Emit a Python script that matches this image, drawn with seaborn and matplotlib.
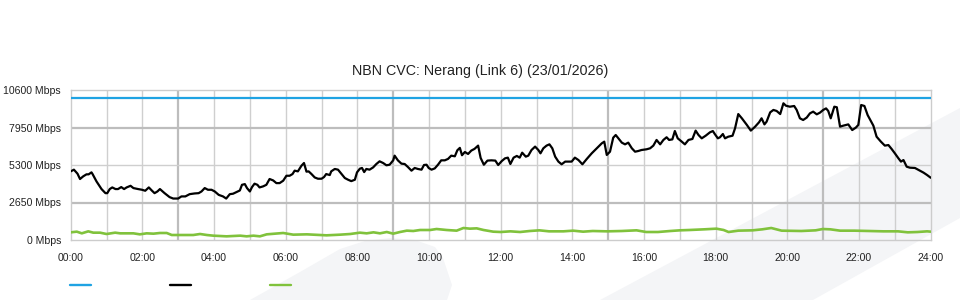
import matplotlib
matplotlib.use("Agg")
import matplotlib.pyplot as plt
import seaborn as sns
import pandas as pd
from matplotlib.patches import Polygon
from matplotlib.lines import Line2D

# ---------------- data ----------------
title = "NBN CVC: Nerang (Link 6) (23/01/2026)"
x_tick_hours = list(range(0, 25, 2))
x_tick_labels = [f"{h:02d}:00" for h in x_tick_hours]
y_ticks = [0, 2650, 5300, 7950, 10600]
y_tick_labels = [f"{v} Mbps" for v in y_ticks]

capacity_hours = [0, 24]
capacity_mbps = [10000, 10000]

traffic_hours = [
    0.00, 0.09, 0.19, 0.26, 0.35, 0.44, 0.50, 0.58, 0.61, 0.72, 0.86, 0.97, 1.02, 1.09, 1.16,
    1.25, 1.32, 1.41, 1.49, 1.56, 1.67, 1.75, 1.88, 1.99, 2.08, 2.18, 2.27, 2.34, 2.42, 2.49,
    2.62, 2.76, 2.86, 3.00, 3.09, 3.20, 3.32, 3.46, 3.57, 3.65, 3.74, 3.83, 3.93, 4.02, 4.13,
    4.25, 4.34, 4.44, 4.53, 4.62, 4.72, 4.78, 4.86, 4.92, 5.00, 5.06, 5.13, 5.21, 5.27, 5.37,
    5.46, 5.55, 5.65, 5.74, 5.83, 5.93, 6.02, 6.11, 6.19, 6.25, 6.34, 6.44, 6.51, 6.58, 6.64,
    6.72, 6.81, 6.90, 7.00, 7.07, 7.13, 7.23, 7.27, 7.37, 7.46, 7.55, 7.65, 7.74, 7.83, 7.93,
    7.99, 8.07, 8.13, 8.19, 8.25, 8.34, 8.44, 8.53, 8.62, 8.72, 8.81, 8.90, 9.00, 9.04, 9.13,
    9.23, 9.32, 9.41, 9.51, 9.60, 9.69, 9.79, 9.86, 9.93, 9.99, 10.07, 10.16, 10.25, 10.34, 10.44,
    10.53, 10.62, 10.72, 10.79, 10.86, 10.92, 11.00, 11.09, 11.18, 11.27, 11.37, 11.44, 11.53, 11.63, 11.74,
    11.85, 11.93, 12.03, 12.12, 12.20, 12.27, 12.36, 12.45, 12.53, 12.60, 12.70, 12.77, 12.86, 12.96, 13.05,
    13.11, 13.19, 13.28, 13.36, 13.44, 13.52, 13.61, 13.70, 13.80, 13.88, 13.98, 14.07, 14.17, 14.28, 14.40,
    14.54, 14.68, 14.82, 14.89, 14.96, 15.05, 15.14, 15.21, 15.30, 15.38, 15.47, 15.56, 15.66, 15.75, 15.84,
    15.93, 16.07, 16.17, 16.26, 16.35, 16.45, 16.54, 16.63, 16.70, 16.79, 16.86, 16.94, 17.03, 17.14, 17.24,
    17.35, 17.44, 17.52, 17.61, 17.72, 17.84, 17.92, 17.98, 18.06, 18.12, 18.20, 18.26, 18.35, 18.47, 18.54,
    18.63, 18.73, 18.87, 18.98, 19.10, 19.21, 19.28, 19.36, 19.42, 19.52, 19.61, 19.70, 19.80, 19.89, 19.96,
    20.07, 20.19, 20.26, 20.35, 20.44, 20.54, 20.63, 20.72, 20.82, 20.91, 21.00, 21.08, 21.14, 21.21, 21.31,
    21.38, 21.47, 21.56, 21.70, 21.81, 21.91, 21.98, 22.06, 22.15, 22.24, 22.33, 22.40, 22.49, 22.61, 22.72,
    22.82, 22.91, 23.00, 23.10, 23.17, 23.24, 23.33, 23.42, 23.56, 23.66, 23.80, 23.90, 24.00,
]
traffic_mbps = [
    4850, 4970, 4685, 4310, 4500, 4640, 4640, 4780, 4660, 4140, 3600, 3310, 3310, 3600, 3715,
    3600, 3600, 3740, 3600, 3715, 3830, 3670, 3600, 3550, 3480, 3715, 3480, 3310, 3430, 3600,
    3310, 3030, 2930, 2930, 3080, 3080, 3240, 3290, 3310, 3430, 3670, 3550, 3550, 3430, 3190,
    3080, 2930, 3240, 3270, 3380, 3500, 3900, 3950, 3670, 3430, 3740, 3980, 3900, 3715, 3790,
    3900, 4310, 4210, 4020, 4020, 4190, 4540, 4540, 4660, 4900, 4850, 5250, 5440, 4830, 4850,
    4660, 4420, 4330, 4330, 4450, 4660, 4590, 4850, 5020, 4970, 4685, 4380, 4260, 4160, 4260,
    4780, 5040, 5090, 4800, 5020, 4970, 5130, 5370, 5560, 5440, 5280, 5320, 5630, 5960, 5630,
    5395, 5370, 5160, 4900, 5090, 5020, 4970, 5300, 5320, 5090, 4970, 5060, 5320, 5630, 5630,
    5730, 5960, 5915, 6340, 6510, 5990, 6220, 6080, 6320, 6440, 6670, 5800, 5320, 5610, 5630,
    5610, 5300, 5580, 5770, 5820, 5370, 5820, 5940, 5820, 6170, 5890, 5960, 6360, 6600, 6360,
    6125, 6480, 6670, 6760, 6480, 5890, 5540, 5350, 5540, 5540, 5540, 5820, 5650, 5350, 5720,
    6125, 6480, 6830, 6950, 6010, 6240, 7230, 7420, 7140, 6880, 6760, 6880, 6480, 6240, 6290,
    6360, 6410, 6480, 6670, 7070, 6760, 7070, 7260, 7070, 7110, 7700, 7185, 7000, 6760, 7070,
    7140, 7730, 7420, 7185, 7370, 7610, 7700, 7470, 7185, 7260, 7490, 7185, 7300, 7370, 7890,
    8900, 8600, 8130, 7730, 8010, 8320, 8600, 8170, 8360, 9020, 9190, 9120, 8900, 9660, 9490,
    9420, 9470, 9190, 8600, 8480, 8650, 8950, 9070, 8880, 9000, 9190, 9300, 9120, 8600, 9420,
    9380, 8010, 8080, 8170, 7770, 7940, 8130, 9540, 9470, 8830, 8410, 8080, 7300, 6950, 6670,
    6710, 6430, 6125, 5770, 5540, 5650, 5180, 5110, 5090, 4950, 4760, 4590, 4400,
]

other_hours = [
    0.00, 0.17, 0.31, 0.49, 0.63, 0.82, 1.00, 1.24, 1.38, 1.75, 1.93, 2.12, 2.31, 2.49, 2.68,
    2.82, 3.05, 3.42, 3.61, 3.80, 3.98, 4.35, 4.54, 4.73, 4.91, 5.10, 5.28, 5.47, 5.93, 6.21,
    6.59, 6.96, 7.14, 7.52, 7.80, 8.07, 8.26, 8.45, 8.63, 8.82, 9.00, 9.19, 9.38, 9.56, 9.75,
    10.03, 10.21, 10.49, 10.77, 10.96, 11.14, 11.33, 11.52, 11.79, 12.00, 12.27, 12.54, 12.81, 13.08, 13.35,
    13.75, 14.02, 14.30, 14.57, 14.97, 15.38, 15.79, 16.06, 16.39, 16.73, 17.00, 17.27, 17.68, 18.02, 18.22,
    18.36, 18.63, 19.03, 19.30, 19.55, 19.84, 20.39, 20.79, 20.99, 21.20, 21.47, 21.87, 22.28, 22.68, 23.09,
    23.36, 23.63, 23.90, 24.00,
]
other_mbps = [
    542, 589, 471, 612, 518, 518, 424, 518, 471, 471, 400, 471, 447, 495, 495,
    353, 353, 353, 424, 353, 306, 259, 283, 306, 259, 306, 259, 400, 495, 377,
    400, 353, 330, 377, 424, 518, 471, 542, 471, 565, 448, 565, 660, 636, 707,
    707, 777, 707, 660, 848, 801, 824, 707, 589, 565, 612, 565, 636, 683, 612,
    612, 660, 589, 636, 612, 636, 683, 565, 565, 636, 683, 707, 754, 801, 707,
    565, 660, 683, 754, 848, 660, 636, 683, 777, 754, 660, 660, 636, 612, 612,
    542, 565, 612, 589,
]

series_colors = ["#1fa3e3", "#000000", "#80c23c"]

# ---------------- figure ----------------
sns.set_style("white")
plt.rcParams["font.family"] = ["Liberation Sans", "DejaVu Sans"]

W, H = 960, 300
fig = plt.figure(figsize=(W / 100, H / 100), dpi=100)
fig.patch.set_facecolor("white")

def fx(px):
    return px / W

def fy(py):
    return 1 - py / H

# decorative watermark shapes (behind everything)
wm = "#f4f5f7"
band = [(600, 300), (960, 108), (960, 218), (813, 300)]
blob = [(250, 300), (300, 272), (340, 249), (365, 241), (390, 238), (415, 240),
        (435, 247), (443, 258), (452, 285), (447, 300)]
for shape in (band, blob):
    fig.add_artist(Polygon([(fx(a), fy(b)) for a, b in shape], closed=True,
                           transform=fig.transFigure, facecolor=wm,
                           edgecolor="none", zorder=-10))

ax = fig.add_axes([70.7 / W, 60 / H, 860 / W, 150 / H])
ax.set_zorder(1)
ax.set_facecolor("none")
ax.patch.set_alpha(0)
ax.set_xlim(0, 24)
ax.set_ylim(0, 10600)

# grid
for h in range(1, 24):
    if h % 6 == 3:
        ax.axvline(h, color="#bdbdbd", lw=1.6, zorder=1)
    else:
        ax.axvline(h, color="#cfcfcf", lw=1.0, zorder=1)
for v in y_ticks[1:-1]:
    if v == 5300:
        ax.axhline(v, color="#cfcfcf", lw=1.0, zorder=1)
    else:
        ax.axhline(v, color="#bdbdbd", lw=1.6, zorder=1)

cap_df = pd.DataFrame({"hour": capacity_hours, "mbps": capacity_mbps})
tr_df = pd.DataFrame({"hour": traffic_hours, "mbps": traffic_mbps})
ot_df = pd.DataFrame({"hour": other_hours, "mbps": other_mbps})

sns.lineplot(data=cap_df, x="hour", y="mbps", ax=ax, color=series_colors[0],
             linewidth=1.6, estimator=None, sort=False, zorder=3)
sns.lineplot(data=tr_df, x="hour", y="mbps", ax=ax, color=series_colors[1],
             linewidth=1.6, estimator=None, sort=False, zorder=4)
sns.lineplot(data=ot_df, x="hour", y="mbps", ax=ax, color=series_colors[2],
             linewidth=1.9, estimator=None, sort=False, zorder=3)

ax.set_xlabel("")
ax.set_ylabel("")
ax.set_xticks(x_tick_hours)
ax.set_xticklabels(x_tick_labels)
ax.set_yticks(y_ticks)
ax.set_yticklabels(y_tick_labels)
ax.tick_params(axis="x", direction="out", length=7.5, width=1, color="#c8c8c8",
               labelsize=7.6, labelcolor="#222222", pad=2)
ax.tick_params(axis="y", length=0, labelsize=7.6, labelcolor="#222222", pad=7)
for s in ax.spines.values():
    s.set_visible(True)
    s.set_color("#cccccc")
    s.set_linewidth(1.0)
ax.grid(False)

fig.text(0.5, fy(71), title, ha="center", va="center", fontsize=10.3, color="#222222")

# legend swatches (no labels in the reference)
for i, c in enumerate(series_colors):
    x0 = 70 + 100 * i
    fig.add_artist(Line2D([fx(x0), fx(x0 + 21)], [fy(285), fy(285)],
                          transform=fig.transFigure, color=c, lw=1.7, zorder=5))

fig.savefig("out.png", dpi=100, facecolor="white")
